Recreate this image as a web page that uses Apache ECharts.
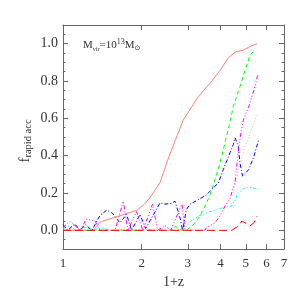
<!DOCTYPE html>
<html><head><meta charset="utf-8">
<script src="https://cdn.jsdelivr.net/npm/echarts@6/dist/echarts.min.js"></script>
<style>html,body{margin:0;padding:0;background:#fff}#c{width:300px;height:300px}</style>
</head><body><div id="c"></div>
<script>
// tick labels
const xTicks = [1, 2, 3, 4, 5, 6, 7];
const yTicks = [0, 0.2, 0.4, 0.6, 0.8, 1.0];

// series values: x = 1+z, y = f_rapid acc
const solidX = [1.0, 1.30, 1.345, 1.385, 1.62, 1.914, 2.05, 2.151, 2.349, 2.49, 2.60, 2.88, 3.29, 3.65, 4.0, 4.29, 4.57, 4.89, 5.19, 5.53];
const solidY = [0, 0, 0.02, 0.044, 0.075, 0.107, 0.14, 0.176, 0.256, 0.36, 0.43, 0.59, 0.716, 0.788, 0.859, 0.925, 0.956, 0.965, 0.985, 1.0];

const greenX = [1.0, 1.5, 2.0, 2.55, 2.7, 2.85, 2.96, 3.15, 3.34, 3.54, 3.65, 3.81, 3.985, 4.16, 4.35, 4.48, 4.75, 4.97, 5.19, 5.45];
const greenY = [0, 0, 0, 0, 0.02, 0, 0, 0.03, 0.076, 0.148, 0.19, 0.27, 0.36, 0.468, 0.58, 0.663, 0.77, 0.858, 0.939, 0.97];

const cyanX = [1.0, 1.06, 1.12, 1.2, 1.3, 1.4, 1.55, 1.7, 1.9, 2.1, 2.3, 2.5, 2.7, 2.96, 3.08, 3.34, 3.65, 4.04, 4.42, 4.68, 4.97, 5.19, 5.6];
const cyanY = [0.01, 0.02, 0.0, 0.015, 0.005, 0.01, 0, 0.005, 0, 0.005, 0, 0.01, 0, 0.02, 0.05, 0.08, 0.1, 0.12, 0.13, 0.2, 0.228, 0.23, 0.22];

const blueX = [1.0, 1.043, 1.11, 1.16, 1.22, 1.29, 1.385, 1.47, 1.55, 1.65, 1.75, 1.83, 1.97, 2.07, 2.15, 2.35, 2.455, 2.6, 2.68, 2.80, 2.87, 2.96, 3.06, 3.25, 3.54, 3.71, 3.93, 4.1, 4.35, 4.48, 4.55, 4.68, 4.75, 4.86, 5.13, 5.37, 5.6];
const blueY = [0.03, 0, 0.035, 0, 0.03, 0, 0.08, 0.108, 0.09, 0.04, 0.085, 0, 0.085, 0.01, 0.05, 0.147, 0.14, 0.145, 0.156, 0.07, 0, 0.11, 0.14, 0.16, 0.19, 0.22, 0.254, 0.325, 0.416, 0.46, 0.496, 0.45, 0.36, 0.29, 0.325, 0.396, 0.485];

const magentaX = [1.0, 1.064, 1.161, 1.23, 1.326, 1.385, 1.58, 1.70, 1.77, 1.91, 2.02, 2.2, 2.3, 2.455, 2.58, 2.85, 2.93, 3.2, 3.49, 3.54, 3.81, 3.985, 4.16, 4.35, 4.55, 4.68, 4.8, 4.89, 5.13, 5.37, 5.57];
const magentaY = [0.015, 0.05, 0, 0.06, 0.05, 0, 0, 0.156, 0, 0.1, 0, 0.14, 0, 0.025, 0, 0.14, 0, 0, 0, 0.015, 0.04, 0.077, 0.13, 0.17, 0.26, 0.42, 0.53, 0.59, 0.663, 0.75, 0.84];

const peachX = [1.0, 3.49, 3.81, 4.16, 4.48, 4.62, 4.75, 4.97, 5.19, 5.42, 5.53];
const peachY = [0, 0, 0.04, 0.12, 0.2, 0.28, 0.36, 0.45, 0.52, 0.59, 0.62];

const redX = [1.0, 4.42, 4.68, 4.83, 4.97, 5.18, 5.37, 5.53];
const redY = [0, 0, 0.023, 0.05, 0.04, 0.023, 0.04, 0.076];

const SERIF = "'Liberation Serif', 'DejaVu Serif', serif";
const AX = '#666';
const TXT = '#333';
const LOGMAX = Math.log10(7);
const lg = v => Math.log10(v);
const pts = (xs, ys) => xs.map((x, i) => [lg(x), ys[i]]);

function line(xs, ys, color, type, z) {
  return {
    type: 'line', data: pts(xs, ys), showSymbol: false, symbol: 'none',
    lineStyle: { color, width: 1, type }, z, silent: true, animation: false, clip: true
  };
}

const xTickVals = xTicks.map(lg);
const common = { min: 0, max: LOGMAX, type: 'value', splitLine: { show: false },
  axisLine: { show: true, onZero: false, lineStyle: { color: AX, width: 1 } } };
const ycommon = { min: -0.1, max: 1.1, type: 'value', splitLine: { show: false } };

const chart = echarts.init(document.getElementById('c'), null, { renderer: 'canvas' });
chart.setOption({
  animation: false,
  backgroundColor: '#fff',
  grid: { left: 63, right: 16, top: 25, bottom: 51, containLabel: false, outerBoundsMode: 'none' },
  xAxis: [
    Object.assign({}, common, {
      position: 'bottom',
      axisTick: { show: true, inside: true, length: 5, customValues: xTickVals, lineStyle: { color: AX } },
      axisLabel: { show: true, customValues: xTickVals, margin: 8, fontFamily: SERIF, fontSize: 13, color: TXT,
        formatter: v => String(Math.round(Math.pow(10, v))) },
      name: '1+z', nameLocation: 'middle', nameGap: 31,
      nameTextStyle: { fontFamily: SERIF, fontSize: 14, color: TXT, verticalAlign: 'middle' }
    }),
    Object.assign({}, common, {
      position: 'top',
      axisTick: { show: true, inside: true, length: 5, customValues: xTickVals, lineStyle: { color: AX } },
      axisLabel: { show: false }
    })
  ],
  yAxis: [
    Object.assign({}, ycommon, { position: 'left', interval: 0.05,
      axisLine: { show: true, onZero: false, lineStyle: { color: AX } },
      axisTick: { show: true, inside: true, length: 2.5, lineStyle: { color: AX } },
      axisLabel: { show: false } }),
    Object.assign({}, ycommon, { position: 'left',
      axisLine: { show: false, onZero: false },
      axisTick: { show: true, inside: true, length: 5, customValues: yTicks, lineStyle: { color: AX } },
      axisLabel: { show: true, customValues: yTicks, margin: 5, fontFamily: SERIF, fontSize: 14, color: TXT,
        formatter: v => v.toFixed(1) } }),
    Object.assign({}, ycommon, { position: 'right', interval: 0.05,
      axisLine: { show: true, onZero: false, lineStyle: { color: AX } },
      axisTick: { show: true, inside: true, length: 2.5, lineStyle: { color: AX } },
      axisLabel: { show: false } }),
    Object.assign({}, ycommon, { position: 'right',
      axisLine: { show: false, onZero: false },
      axisTick: { show: true, inside: true, length: 5, customValues: yTicks, lineStyle: { color: AX } },
      axisLabel: { show: false } })
  ],
  graphic: [
    { type: 'text', x: 25, y: 141, rotation: Math.PI / 2, silent: true,
      style: { text: '{f|f}{s|rapid acc}', align: 'center', verticalAlign: 'middle',
        rich: {
          f: { fontSize: 15, fontFamily: SERIF, fill: TXT, color: TXT, lineHeight: 17 },
          s: { fontSize: 10.5, fontFamily: SERIF, fill: TXT, color: TXT, lineHeight: 10, verticalAlign: 'bottom' }
        } } },
    { type: 'text', x: 83, y: 45, silent: true,
      style: { text: '{m|M}{s|vir}{m|=10}{p|13}{m|M}{o|⊙}', align: 'left', verticalAlign: 'middle',
        rich: {
          m: { fontSize: 11, fontFamily: SERIF, fill: TXT, color: TXT, lineHeight: 14 },
          s: { fontSize: 6, fontFamily: SERIF, fill: TXT, color: TXT, lineHeight: 6, verticalAlign: 'bottom' },
          p: { fontSize: 8, fontFamily: SERIF, fill: TXT, color: TXT, lineHeight: 8, verticalAlign: 'top' },
          o: { fontSize: 7, fontFamily: "'DejaVu Sans', sans-serif", fill: TXT, color: TXT, lineHeight: 7, verticalAlign: 'bottom' }
        } } }
  ],
  series: [
    line(solidX, solidY, '#ff8080', 'solid', 2),
    line(greenX, greenY, '#00ff00', [4, 3], 3),
    line(cyanX, cyanY, '#00ffff', [3, 2, 1, 2, 1, 2], 4),
    line(blueX, blueY, '#0000ff', [4, 2, 1, 2], 5),
    line(magentaX, magentaY, '#ff00ff', [4, 2, 1, 2, 1, 2, 1, 2], 6),
    line(peachX, peachY, '#ffb894', [1, 2], 7),
    line(redX, redY, '#ff0000', [8, 4], 8)
  ]
});
</script></body></html>
